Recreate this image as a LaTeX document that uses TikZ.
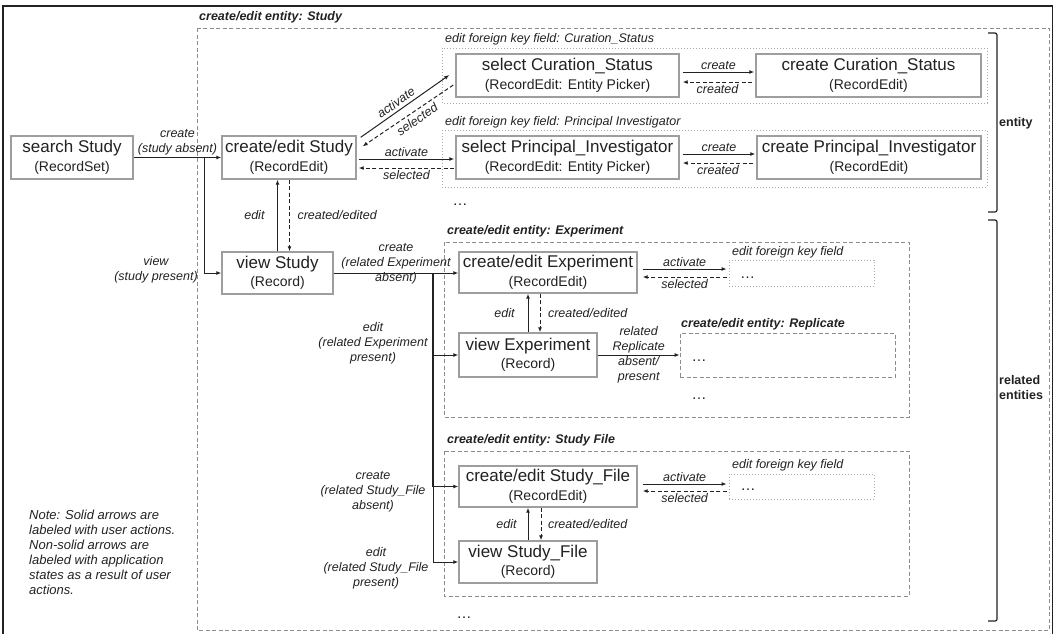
\documentclass[tikz,border=0pt]{standalone}
\usepackage{fontspec}
\setmainfont{Liberation Sans}
\usetikzlibrary{arrows.meta,calc}
\definecolor{txt}{HTML}{222222}
\definecolor{boxgray}{HTML}{9E9E9E}
\definecolor{dashgray}{HTML}{8C8C8C}
\definecolor{dotgray}{HTML}{AAAAAA}
\definecolor{arr}{HTML}{222222}
\newcommand\bxt[2]{{\fontsize{17}{18.5}\selectfont #1}\\#2}
\begin{document}
\begin{tikzpicture}[x=1pt,y=-1pt,
  box/.style={draw=boxgray, line width=1.4pt, fill=white, align=center, inner sep=0pt,
    text=txt, font=\fontsize{14}{18.5}\selectfont},
  arrow/.style={draw=arr, line width=1pt, -{Latex[length=5pt,width=4pt]}},
  darrow/.style={arrow, dash pattern=on 4pt off 2.5pt},
  lbl/.style={font=\fontsize{12.5}{15}\selectfont\itshape, text=txt, inner sep=1.5pt, align=center},
  hdr/.style={font=\fontsize{12.5}{15}\selectfont\bfseries\itshape, text=txt, anchor=west, inner sep=0pt},
  subhdr/.style={font=\fontsize{12.5}{15}\selectfont\itshape, text=txt, anchor=west, inner sep=0pt},
  grp/.style={draw=dashgray, line width=0.8pt, dash pattern=on 4pt off 2.5pt},
  fk/.style={draw=dotgray, line width=0.8pt, dash pattern=on 1pt off 2pt},
  brk/.style={draw=arr, line width=1.2pt, rounded corners=2pt},
  dotsn/.style={font=\fontsize{15}{15}\selectfont, text=txt, inner sep=0pt},
  side/.style={font=\fontsize{12.5}{15}\selectfont\bfseries, text=txt, anchor=west, inner sep=0pt, align=left}
]
\useasboundingbox (0,0) rectangle (1055,633);

% outer frame
\draw[draw=arr, line width=1.4pt] (3,640) -- (3,6) -- (1052.5,6) -- (1052.5,640);

% group frames
\node[hdr] (hStudy) at (199,17) {create/edit entity: Study};
\draw[grp] (197,28) rectangle (1049,630.5);

\node[subhdr] (hCS) at (445,39) {edit foreign key field: Curation\_Status};
\draw[fk] (442,48) rectangle (987,103);
\node[subhdr] (hPI) at (445,122) {edit foreign key field: Principal Investigator};
\draw[fk] (442,130) rectangle (987,187);
\node[dotsn] (dotsEnt) at (460,205) {…};

\node[hdr] (hExp) at (447,231) {create/edit entity: Experiment};
\draw[grp] (444,242) rectangle (909,417);
\node[hdr] (hRep) at (681,324) {create/edit entity: Replicate};
\node[grp, minimum width=215pt, minimum height=44pt, inner sep=0pt] (rep) at (787.5,355) {};
\node[dotsn] (dotsRep) at (699,361) {…};
\node[dotsn] (dotsExp) at (699,399) {…};
\node[subhdr] (hfkE) at (732,252) {edit foreign key field};
\node[fk, minimum width=145pt, minimum height=26pt, inner sep=0pt] (fkE) at (801.5,273) {};
\node[dotsn] (dotsfkE) at (747.5,278) {…};

\node[hdr] (hSF) at (447,440) {create/edit entity: Study File};
\draw[grp] (444,451) rectangle (909,596);
\node[subhdr] (hfkS) at (732,465) {edit foreign key field};
\node[fk, minimum width=145pt, minimum height=25pt, inner sep=0pt] (fkS) at (801.5,486.5) {};
\node[dotsn] (dotsfkS) at (748,490) {…};
\node[dotsn] (dotsRel) at (464,618) {…};

% brackets
\draw[brk] (988,33) -- (997,33) -- (997,212) -- (988,212);
\node[side] (lEnt) at (999,123) {entity};
\draw[brk] (988,220) -- (997,220) -- (997,621) -- (988,621);
\node[side] (lRel) at (999,387.5) {related\\entities};

% boxes
\node[box, minimum width=122pt, minimum height=43pt] (search) at (72,157.5) {\bxt{search Study}{(RecordSet)}};
\node[box, minimum width=134pt, minimum height=43pt] (createStudy) at (289,157.5) {\bxt{create/edit Study}{(RecordEdit)}};
\node[box, minimum width=111pt, minimum height=42pt] (viewStudy) at (277.5,273) {\bxt{view Study}{(Record)}};
\node[box, minimum width=223pt, minimum height=43pt] (selectCS) at (567.5,75.5) {\bxt{select Curation\_Status}{(RecordEdit: Entity Picker)}};
\node[box, minimum width=225pt, minimum height=43pt] (createCS) at (868.5,75.5) {\bxt{create Curation\_Status}{(RecordEdit)}};
\node[box, minimum width=223pt, minimum height=43pt] (selectPI) at (567.5,157.5) {\bxt{select Principal\_Investigator}{(RecordEdit: Entity Picker)}};
\node[box, minimum width=224pt, minimum height=43pt] (createPI) at (869,157.5) {\bxt{create Principal\_Investigator}{(RecordEdit)}};
\node[box, minimum width=178pt, minimum height=41pt] (createExp) at (548,272.5) {\bxt{create/edit Experiment}{(RecordEdit)}};
\node[box, minimum width=138pt, minimum height=44pt] (viewExp) at (528,355) {\bxt{view Experiment}{(Record)}};
\node[box, minimum width=178pt, minimum height=41pt] (createSF) at (548,486.5) {\bxt{create/edit Study\_File}{(RecordEdit)}};
\node[box, minimum width=138pt, minimum height=42pt] (viewSF) at (528,562) {\bxt{view Study\_File}{(Record)}};

% note
\node[lbl, anchor=north west, align=left, font=\fontsize{13}{15}\selectfont\itshape, inner sep=0pt] (note) at (29,510)
  {Note: Solid arrows are\\labeled with user actions.\\Non-solid arrows are\\labeled with application\\states as a result of user\\actions.};

% study level connectors
\draw[arrow] (search) -- (createStudy) node[lbl, midway, above] {create\\(study absent)};
\coordinate (br) at (204,157.5);
\draw[arrow] (br) |- (viewStudy.west);
\node[lbl] (lview) at (156,270) {view\\(study present)};
\draw[arrow] (viewStudy.north) -- (viewStudy.north |- createStudy.south) node[lbl, midway, left, xshift=-11pt] {edit};
\draw[darrow] ([xshift=12pt]viewStudy.north |- createStudy.south) -- ([xshift=12pt]viewStudy.north) node[lbl, midway, right, xshift=6pt] {created/edited};

% to curation status
\draw[arrow] ($(createStudy.north east)+(4,2)$) -- ($(selectCS.west)+(-6,-0.5)$) node[lbl, pos=0.45, sloped, above, inner sep=3pt] {activate};
\draw[darrow] ($(selectCS.west)+(-2,9.5)$) -- ($(createStudy.north east)+(6,11)$) node[lbl, pos=0.45, sloped, below, inner sep=3pt] {selected};
% to principal investigator
\draw[arrow] ($(createStudy.east)+(2,1.5)$) -- ($(selectPI.west)+(-1,1.5)$) node[lbl, midway, above] {activate};
\draw[darrow] ($(selectPI.west)+(-1,10.5)$) -- ($(createStudy.east)+(2,10.5)$) node[lbl, midway, below] {selected};

\draw[arrow] ($(selectCS.east)+(3,-3.5)$) -- ($(createCS.west)+(-1,-3.5)$) node[lbl, midway, above] {create};
\draw[darrow] ($(createCS.west)+(-3,6.5)$) -- ($(selectCS.east)+(3,6.5)$) node[lbl, midway, below] {created};
\draw[arrow] ($(selectPI.east)+(3,-3.5)$) -- ($(createPI.west)+(-1,-3.5)$) node[lbl, midway, above] {create};
\draw[darrow] ($(createPI.west)+(-3,5.5)$) -- ($(selectPI.east)+(3,5.5)$) node[lbl, midway, below] {created};

% related entities
\draw[arrow] (viewStudy.east) -- (viewStudy.east -| createExp.west) node[lbl, midway, yshift=9pt] {create\\(related Experiment\\absent)};
\coordinate (tr) at (433,273);
\draw[arrow] (tr) |- (viewExp.west);
\draw[arrow] ([xshift=-1pt]tr) |- (createSF.west);
\draw[arrow] (tr) |- (viewSF.west);
\node[lbl] (lEE) at (373,343) {edit\\(related Experiment\\present)};
\node[lbl] (lCS) at (373,492) {create\\(related Study\_File\\absent)};
\node[lbl] (lES) at (376,568) {edit\\(related Study\_File\\present)};

% experiment
\draw[arrow] (viewExp.north) -- (viewExp.north |- createExp.south) node[lbl, midway, left, xshift=-11.5pt] {edit};
\draw[darrow] ([xshift=12pt]viewExp.north |- createExp.south) -- ([xshift=12pt]viewExp.north) node[lbl, midway, right, xshift=6pt] {created/edited};
\draw[arrow] ($(createExp.east)+(5,-3.5)$) -- ($(fkE.west)+(-2,-4)$) node[lbl, midway, above] {activate};
\draw[darrow] ($(fkE.west)+(-2,4)$) -- ($(createExp.east)+(5,4.5)$) node[lbl, midway, below] {selected};
\draw[arrow] (viewExp) -- (rep) node[lbl, midway] {related\\Replicate\\absent/\\present};

% study file
\draw[arrow] (viewSF.north) -- (viewSF.north |- createSF.south) node[lbl, midway, left, xshift=-9.5pt] {edit};
\draw[darrow] ([xshift=13pt]viewSF.north |- createSF.south) -- ([xshift=13pt]viewSF.north) node[lbl, midway, right, xshift=5pt] {created/edited};
\draw[arrow] ($(createSF.east)+(5,-2.5)$) -- ($(fkS.west)+(-2,-2.5)$) node[lbl, midway, above] {activate};
\draw[darrow] ($(fkS.west)+(-2,4.5)$) -- ($(createSF.east)+(5,4.5)$) node[lbl, midway, below] {selected};
\end{tikzpicture}
\end{document}
